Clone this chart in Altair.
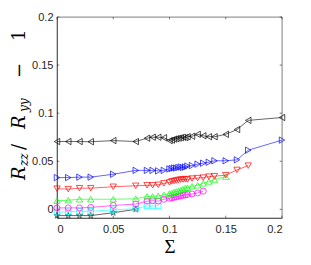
import altair as alt
import pandas as pd

# ---- data ----
x_black = [0, 0.01, 0.02, 0.03, 0.05, 0.07, 0.08, 0.085, 0.09, 0.095, 0.1, 0.102, 0.104, 0.106, 0.108,
           0.11, 0.112, 0.114, 0.116, 0.12, 0.125, 0.13, 0.135, 0.14, 0.15, 0.16, 0.17, 0.2]
y_black = [0.0705, 0.0705, 0.0705, 0.0703, 0.0715, 0.0705, 0.074, 0.075, 0.075, 0.0745, 0.0715, 0.072,
           0.073, 0.0735, 0.074, 0.0745, 0.075, 0.0745, 0.0755, 0.076, 0.078, 0.0765, 0.0755, 0.0755,
           0.078, 0.083, 0.0925, 0.0955]

x_blue = [0, 0.01, 0.02, 0.03, 0.05, 0.07, 0.08, 0.085, 0.09, 0.095, 0.1, 0.102, 0.104, 0.106, 0.108,
          0.11, 0.112, 0.114, 0.116, 0.12, 0.125, 0.13, 0.135, 0.14, 0.15, 0.16, 0.17, 0.2]
y_blue = [0.033, 0.033, 0.0335, 0.0335, 0.0365, 0.0405, 0.0405, 0.0405, 0.040, 0.0405, 0.042, 0.0425,
          0.043, 0.043, 0.0435, 0.044, 0.0435, 0.044, 0.045, 0.0455, 0.047, 0.048, 0.049, 0.0505,
          0.0505, 0.0515, 0.0615, 0.072]

x_red = [0, 0.01, 0.02, 0.03, 0.05, 0.07, 0.08, 0.085, 0.09, 0.095, 0.1, 0.102, 0.104, 0.106, 0.108,
         0.11, 0.112, 0.114, 0.116, 0.12, 0.125, 0.13, 0.135, 0.14, 0.15, 0.16, 0.17]
y_red = [0.0215, 0.021, 0.022, 0.022, 0.0235, 0.0245, 0.025, 0.025, 0.0255, 0.027, 0.028, 0.029,
         0.0295, 0.030, 0.0305, 0.031, 0.031, 0.0315, 0.031, 0.032, 0.0325, 0.033, 0.034, 0.0345,
         0.0355, 0.041, 0.0455]

x_green = [0, 0.01, 0.02, 0.03, 0.05, 0.07, 0.08, 0.085, 0.09, 0.095, 0.1, 0.102, 0.104, 0.106, 0.108,
           0.11, 0.112, 0.114, 0.116, 0.12, 0.125, 0.13, 0.135, 0.14, 0.15]
y_green = [0.009, 0.0095, 0.0105, 0.0105, 0.0105, 0.011, 0.0135, 0.0135, 0.014, 0.015, 0.0165, 0.017,
           0.018, 0.0185, 0.019, 0.020, 0.021, 0.022, 0.0225, 0.024, 0.025, 0.027, 0.029, 0.031, 0.034]

x_magenta = [0, 0.01, 0.02, 0.03, 0.05, 0.07, 0.08, 0.085, 0.09, 0.095, 0.1, 0.102, 0.104, 0.106,
             0.108, 0.11, 0.112, 0.114, 0.116, 0.12, 0.125, 0.13]
y_magenta = [0.0015, 0.0015, 0.0015, 0.002, 0.004, 0.0055, 0.0085, 0.009, 0.0085, 0.0105, 0.0115,
             0.012, 0.0125, 0.013, 0.0135, 0.014, 0.0145, 0.015, 0.0155, 0.016, 0.017, 0.019]

x_cyan = [0, 0.01, 0.02, 0.03, 0.05, 0.07, 0.08, 0.085, 0.09]
y_cyan = [-0.003, -0.0025, -0.002, -0.002, -0.0005, 0.0005, 0.0035, 0.0035, 0.0035]

x_star = [0, 0.01, 0.02, 0.03, 0.05, 0.07]
y_star = [-0.0065, -0.0065, -0.0065, -0.0065, -0.0035, 0.0]

x_ticks = [0, 0.05, 0.1, 0.15, 0.2]
y_ticks = [0, 0.05, 0.1, 0.15, 0.2]

STAR = ("M0,-1L0.2245,-0.309L0.951,-0.309L0.363,0.118L0.588,0.809L0,0.382L-0.588,0.809"
        "L-0.363,0.118L-0.951,-0.309L-0.2245,-0.309Z")

series = [
    (x_star, y_star, "#000000", "#1e3c3c", STAR, 42),
    (x_cyan, y_cyan, "#00ffff", "#00ffff", "square", 30),
    (x_magenta, y_magenta, "#ff00ff", "#ff00ff", "circle", 36),
    (x_green, y_green, "#00ff00", "#00ff00", "triangle-up", 40),
    (x_red, y_red, "#ff0000", "#ff0000", "triangle-down", 40),
    (x_blue, y_blue, "#0000ff", "#0000ff", "triangle-right", 40),
    (x_black, y_black, "#000000", "#000000", "triangle-left", 40),
]

W, H = 225, 201
XDOM = [0, 0.2]
YDOM = [-0.009, 0.2]
AX = "#262626"

xs = alt.Scale(domain=XDOM, nice=False, zero=False)
ys = alt.Scale(domain=YDOM, nice=False, zero=False)

xaxis = alt.Axis(values=x_ticks, format="~g", tickSize=0, labelPadding=5,
                 labelFont="Liberation Sans", labelFontSize=11, labelColor=AX,
                 domainColor=AX, domainWidth=0.6, grid=False, title=None)
yaxis = alt.Axis(values=y_ticks, format="~g", tickSize=0, labelPadding=4,
                 labelFont="Liberation Sans", labelFontSize=11, labelColor=AX,
                 domainColor=AX, domainWidth=0.6, grid=False, title=None)


def X(f="s:Q"):
    return alt.X(f, scale=xs, axis=xaxis, title=None)


def Y(f="v:Q"):
    return alt.Y(f, scale=ys, axis=yaxis, title=None)


layers = []
for xv, yv, lc, mc, shp, sz in series:
    df = pd.DataFrame({"s": xv, "v": yv})
    base = alt.Chart(df)
    layers.append(base.mark_line(color=lc, strokeWidth=0.6).encode(x=X(), y=Y()))
    layers.append(base.mark_point(shape=shp, size=sz, filled=False, color=mc, strokeWidth=0.7,
                                  opacity=1).encode(x=X(), y=Y()))

# inward ticks on all four sides
xt = pd.DataFrame({"s": x_ticks})
yt = pd.DataFrame({"v": y_ticks})
TL = 2.3
layers.append(alt.Chart(xt).mark_rule(color=AX, strokeWidth=0.6).encode(
    x=X(), y=alt.value(H), y2=alt.value(H - TL)))
layers.append(alt.Chart(xt).mark_rule(color=AX, strokeWidth=0.6).encode(
    x=X(), y=alt.value(0), y2=alt.value(TL)))
layers.append(alt.Chart(yt).mark_rule(color=AX, strokeWidth=0.6).encode(
    y=Y(), x=alt.value(0), x2=alt.value(TL)))
layers.append(alt.Chart(yt).mark_rule(color=AX, strokeWidth=0.6).encode(
    y=Y(), x=alt.value(W), x2=alt.value(W - TL)))

# y-axis title: R_zz / R_yy - 1 (rotated, built from pieces)
title_pieces = pd.DataFrame({
    "t": ["R", "zz", "/", "R", "yy", "\u2212", "1"],
    "px": [-32, -29, -32, -32, -29, -32, -32],
    "py": [163, 149, 133, 112, 95, 61, 24],
    "fs": [18, 12, 18, 18, 12, 18, 18],
    "it": ["italic", "italic", "normal", "italic", "italic", "normal", "normal"],
})
for style in ["italic", "normal"]:
    for fs in [18, 12]:
        sub = title_pieces[(title_pieces.it == style) & (title_pieces.fs == fs)]
        if len(sub) == 0:
            continue
        layers.append(alt.Chart(sub).mark_text(
            angle=270, align="left", baseline="alphabetic", font="DejaVu Serif",
            fontSize=fs, fontStyle=style, color="#000000").encode(
            x=alt.X("px:Q", scale=None, axis=None), y=alt.Y("py:Q", scale=None, axis=None),
            text="t:N"))

# x-axis title
xtitle = pd.DataFrame({"t": ["\u03a3"], "px": [113], "py": [239.5]})
layers.append(alt.Chart(xtitle).mark_text(
    align="center", baseline="bottom", font="Liberation Serif", fontSize=19,
    color="#000000").encode(x=alt.X("px:Q", scale=None, axis=None),
                            y=alt.Y("py:Q", scale=None, axis=None), text="t:N"))

chart = alt.layer(*layers).properties(
    width=W, height=H,
    autosize=alt.AutoSizeParams(type="none"),
    padding={"left": 49, "top": 9, "right": 20, "bottom": 39},
).configure_view(stroke=AX, strokeWidth=0.6)

chart.save("out.html", embed_options={"renderer": "svg", "actions": False})
